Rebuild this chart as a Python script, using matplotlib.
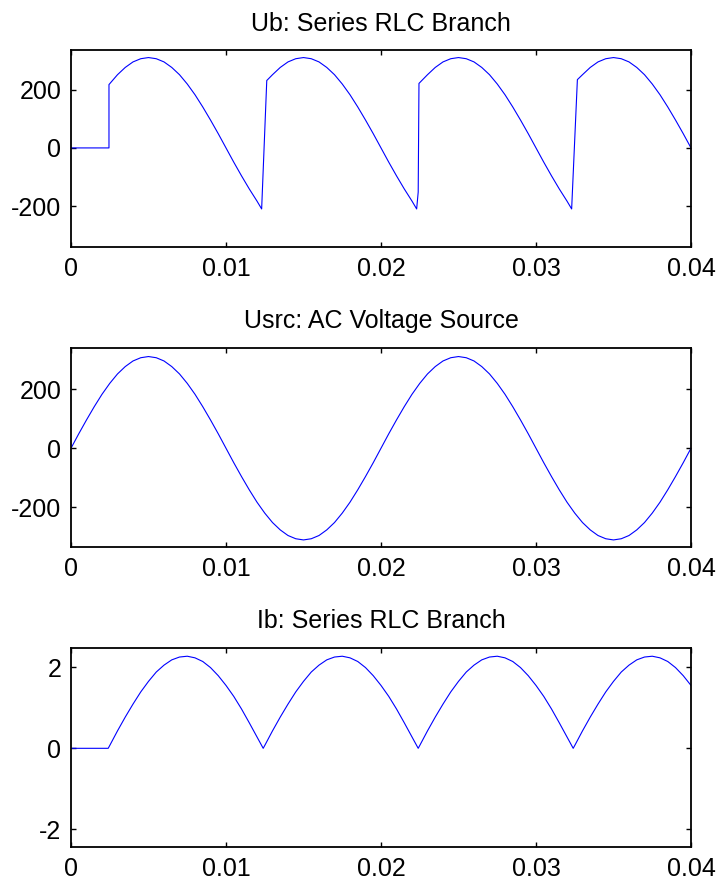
import matplotlib
matplotlib.use("Agg")
import matplotlib.pyplot as plt
import numpy as np

plt.rcParams['font.family'] = ['Liberation Sans', 'DejaVu Sans']

# ---------------- data ----------------
titles = ["Ub: Series RLC Branch", "Usrc: AC Voltage Source", "Ib: Series RLC Branch"]
xticks = [0, 0.01, 0.02, 0.03, 0.04]
xticklabels = ["0", "0.01", "0.02", "0.03", "0.04"]
volt_ticks = [-200, 0, 200]
volt_ticklabels = ["-200", "0", "200"]
cur_ticks = [-2, 0, 2]
cur_ticklabels = ["-2", "0", "2"]

# Ub: load voltage (time in s, value in V)
ub_t = ([0.0, 0.0005, 0.001, 0.0015, 0.002, 0.00245, 0.00245]
        + list(np.round(np.arange(0.003, 0.01201, 0.0005), 5))
        + [0.0123, 0.01263]
        + list(np.round(np.arange(0.013, 0.02201, 0.0005), 5))
        + [0.0223, 0.0224, 0.02245]
        + list(np.round(np.arange(0.023, 0.03201, 0.0005), 5))
        + [0.0323, 0.03267]
        + list(np.round(np.arange(0.033, 0.04001, 0.0005), 5)))
ub_v = ([0, 0, 0, 0, 0, 0, 218,
         252, 277, 296, 307, 311, 307, 296, 277, 252, 220, 183, 141, 96, 49, 0, -49, -96, -141, -183,
         -210, 232,
         252, 277, 296, 307, 311, 307, 296, 277, 252, 220, 183, 141, 96, 49, 0, -49, -96, -141, -183,
         -210, -152, 222,
         252, 277, 296, 307, 311, 307, 296, 277, 252, 220, 183, 141, 96, 49, 0, -49, -96, -141, -183,
         -210, 235,
         252, 277, 296, 307, 311, 307, 296, 277, 252, 220, 183, 141, 96, 49, 0])

# Usrc: source voltage on a 0.5 ms grid
usrc_t = list(np.round(np.arange(0.0, 0.04001, 0.0005), 5))
usrc_v = [0, 49, 96, 141, 183, 220, 252, 277, 296, 307, 311, 307, 296, 277, 252, 220, 183, 141, 96, 49,
          0, -49, -96, -141, -183, -220, -252, -277, -296, -307, -311, -307, -296, -277, -252, -220, -183, -141, -96, -49,
          0, 49, 96, 141, 183, 220, 252, 277, 296, 307, 311, 307, 296, 277, 252, 220, 183, 141, 96, 49,
          0, -49, -96, -141, -183, -220, -252, -277, -296, -307, -311, -307, -296, -277, -252, -220, -183, -141, -96, -49,
          0]

# Ib: branch current (A)
ib_t = ([0.0, 0.0005, 0.001, 0.0015, 0.002, 0.0024]
        + list(np.round(np.arange(0.0025, 0.01201, 0.0005), 5))
        + [0.0124]
        + list(np.round(np.arange(0.0125, 0.02201, 0.0005), 5))
        + [0.0224]
        + list(np.round(np.arange(0.0225, 0.03201, 0.0005), 5))
        + [0.0324]
        + list(np.round(np.arange(0.0325, 0.04001, 0.0005), 5)))
ib_v = ([0, 0, 0, 0, 0, 0,
         0.07, 0.43, 0.77, 1.09, 1.39, 1.65, 1.88, 2.05, 2.18, 2.25, 2.27, 2.23, 2.14, 1.99, 1.79, 1.55, 1.28, 0.97, 0.63, 0.28,
         0,
         0.07, 0.43, 0.77, 1.09, 1.39, 1.65, 1.88, 2.05, 2.18, 2.25, 2.27, 2.23, 2.14, 1.99, 1.79, 1.55, 1.28, 0.97, 0.63, 0.28,
         0,
         0.07, 0.43, 0.77, 1.09, 1.39, 1.65, 1.88, 2.05, 2.18, 2.25, 2.27, 2.23, 2.14, 1.99, 1.79, 1.55, 1.28, 0.97, 0.63, 0.28,
         0,
         0.07, 0.43, 0.77, 1.09, 1.39, 1.65, 1.88, 2.05, 2.18, 2.25, 2.27, 2.23, 2.14, 1.99, 1.79, 1.55])

series = [(ub_t, ub_v), (usrc_t, usrc_v), (ib_t, ib_v)]
ylims = [(-342, 337), (-336, 341), (-2.44, 2.48)]
yticks = [(volt_ticks, volt_ticklabels), (volt_ticks, volt_ticklabels), (cur_ticks, cur_ticklabels)]

# ---------------- figure ----------------
W, H = 721, 888
fig = plt.figure(figsize=(W / 100, H / 100), dpi=100)
boxes = [(71, 50, 691, 247.3), (71, 347.7, 691, 547.3), (71, 647.7, 691, 847.3)]

for i, ((x0, y0, x1, y1), (t, v)) in enumerate(zip(boxes, series)):
    ax = fig.add_axes([x0 / W, 1 - y1 / H, (x1 - x0) / W, (y1 - y0) / H])
    ax.plot(t, v, color='#0000ff', linewidth=0.8)
    ax.set_xlim(0, 0.04)
    ax.set_ylim(*ylims[i])
    ax.set_xticks(xticks)
    ax.set_xticklabels(xticklabels)
    ax.set_yticks(yticks[i][0])
    ax.set_yticklabels(yticks[i][1])
    ax.tick_params(direction='in', length=3.5, width=1, labelsize=18,
                   top=True, right=True, pad=7, colors='black')
    for sp in ax.spines.values():
        sp.set_linewidth(1.3)
        sp.set_color('black')
    ax.set_title(titles[i], fontsize=18, pad=14)

fig.savefig("out.png", dpi=100)
